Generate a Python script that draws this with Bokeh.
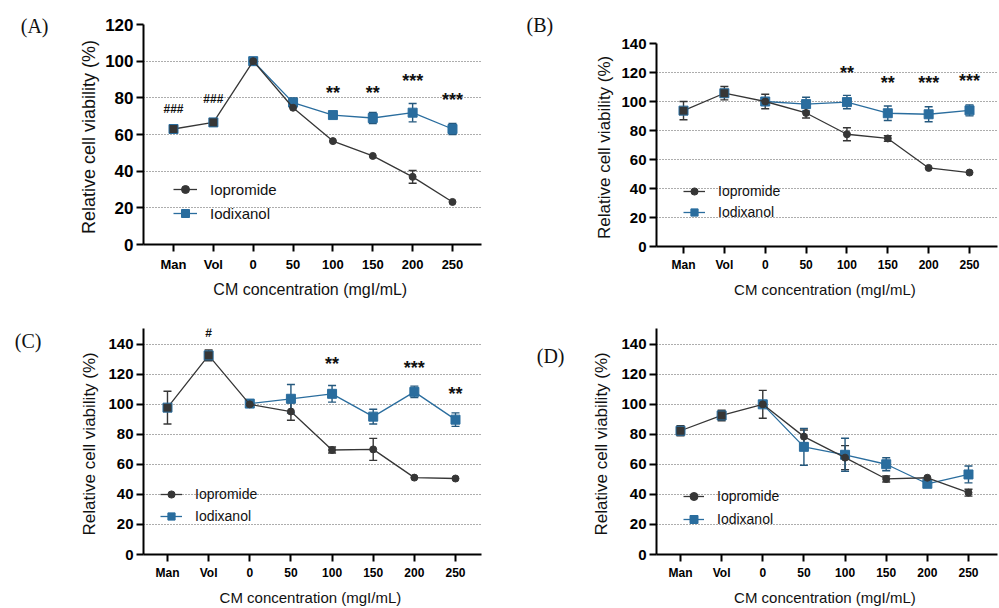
from bokeh.plotting import figure
from bokeh.models import (Range1d, FixedTicker, Whisker, TeeHead, ColumnDataSource,
                          Legend, LegendItem, LinearAxis, Title)
from bokeh.layouts import column, row
from bokeh.embed import file_html
from bokeh.resources import INLINE
from bokeh.core.properties import value

categories = ["Man", "Vol", "0", "50", "100", "150", "200", "250"]
iod_categories = ["0", "50", "100", "150", "200", "250"]

# ---------------- Panel A ----------------
a_iop = [63.0, 66.6, 100.0, 74.6, 56.4, 48.3, 36.9, 23.2]
a_iop_err = [0, 0, 1.8, 0, 0, 0, 3.5, 0]
a_iod = [100.0, 77.4, 70.6, 69.0, 71.9, 63.0]
a_iod_err = [0, 2.5, 0, 3.0, 5.0, 3.0]
a_sig_cat = ["Man", "Vol", "100", "150", "200", "250"]
a_sig_y = [74.0, 79.2, 82.8, 82.8, 89.0, 78.6]
a_sig_txt = ["###", "###", "**", "**", "***", "***"]
a_yticks = [0, 20, 40, 60, 80, 100, 120]
a_grid = [20, 40, 60, 80, 100]

# ---------------- Panel B ----------------
b_iop = [93.7, 105.7, 100.0, 92.1, 77.4, 74.5, 54.2, 51.0]
b_iop_err = [6.3, 4.6, 5.0, 3.5, 4.5, 2.0, 0, 0]
b_iod = [100.0, 98.2, 99.6, 91.9, 91.2, 93.9]
b_iod_err = [0, 4.7, 4.6, 5.0, 5.2, 3.8]
b_sig_cat = ["100", "150", "200", "250"]
b_sig_y = [119.5, 112.5, 113.0, 114.0]
b_sig_txt = ["**", "**", "***", "***"]
b_yticks = [0, 20, 40, 60, 80, 100, 120, 140]
b_grid = [20, 40, 60, 80, 100, 120]

# ---------------- Panel C ----------------
c_iop = [97.8, 132.6, 100.0, 95.2, 69.6, 70.0, 51.2, 50.6]
c_iop_err = [10.9, 3.6, 2.0, 5.8, 2.0, 7.3, 0, 0]
c_iod = [100.5, 103.7, 107.0, 91.8, 108.3, 89.8]
c_iod_err = [0, 9.5, 5.5, 4.9, 3.8, 4.5]
c_sig_cat = ["Vol", "100", "200", "250"]
c_sig_y = [147.5, 126.7, 124.0, 107.2]
c_sig_txt = ["#", "**", "***", "**"]
c_yticks = [0, 20, 40, 60, 80, 100, 120, 140]
c_grid = [20, 40, 60, 80, 100, 120, 140]

# ---------------- Panel D ----------------
d_iop = [82.4, 92.6, 100.0, 78.5, 64.5, 50.3, 51.1, 41.2]
d_iop_err = [3.3, 3.5, 9.3, 4.4, 8.0, 2.0, 0, 2.3]
d_iod = [100.0, 71.7, 66.4, 60.1, 47.1, 53.3]
d_iod_err = [0, 12.3, 11.0, 4.3, 0, 5.6]
d_sig_cat = []
d_sig_y = []
d_sig_txt = []
d_yticks = [0, 20, 40, 60, 80, 100, 120, 140]
d_grid = [20, 40, 60, 80, 100, 120, 140]

DARK = "#363636"
BLUE = "#2a6d9e"
BLUE_ERR = "#24587e"
FONT = "Liberation Sans"
SERIF = "Liberation Serif"


def make_panel(tag, iop, iop_err, iod, iod_err, sig_cat, sig_y, sig_txt,
               yticks, grid, ymax, xr, w, h, bl, br, bt, bb,
               ytick_size, xtick_size, ylab_size, xlab_size, ylab_standoff, xlab_standoff,
               xtick_standoff, leg_loc, leg_glyph_w, leg_h, leg_spacing, leg_text_size,
               tag_mode, tag_pos, tag_standoff):
    idx = {c: i for i, c in enumerate(categories)}
    p = figure(width=w, height=h, output_backend="svg", toolbar_location=None,
               x_range=Range1d(*xr), y_range=Range1d(0, ymax),
               min_border_left=bl, min_border_right=br, min_border_top=bt,
               min_border_bottom=bb)
    p.outline_line_color = None
    p.xgrid.visible = False
    p.ygrid.ticker = FixedTicker(ticks=grid)
    p.ygrid.grid_line_color = "#5a5a5a"
    p.ygrid.grid_line_dash = "1 2"
    p.ygrid.grid_line_width = 1

    for ax in (p.xaxis[0], p.yaxis[0]):
        ax.axis_line_width = 2
        ax.axis_line_color = "black"
        ax.major_tick_line_width = 2
        ax.major_tick_line_color = "black"
        ax.major_tick_in = 0
        ax.major_tick_out = 7
        ax.minor_tick_line_color = None
        ax.major_label_text_font = FONT
        ax.major_label_text_font_style = "bold"
        ax.major_label_text_color = "black"
        ax.axis_label_text_font = FONT
        ax.axis_label_text_font_style = "normal"
        ax.axis_label_text_color = "#111111"

    p.yaxis[0].ticker = FixedTicker(ticks=yticks)
    p.yaxis[0].major_label_text_font_size = ytick_size
    p.yaxis[0].major_label_standoff = 3
    p.yaxis[0].axis_label = "Relative cell viability  (%)"
    p.yaxis[0].axis_label_text_font_size = ylab_size
    p.yaxis[0].axis_label_standoff = ylab_standoff

    p.xaxis[0].ticker = FixedTicker(ticks=list(range(len(categories))))
    p.xaxis[0].major_label_overrides = {i: c for i, c in enumerate(categories)}
    p.xaxis[0].major_label_text_font_size = xtick_size
    p.xaxis[0].major_label_standoff = xtick_standoff
    p.xaxis[0].axis_label = "CM concentration  (mgI/mL)"
    p.xaxis[0].axis_label_text_font_size = xlab_size
    p.xaxis[0].axis_label_standoff = xlab_standoff

    # panel tag "(A)" etc.
    if tag_mode == "axis":
        frame_h = h - bt - bb
        p.extra_y_ranges = {"tag": Range1d(0, frame_h)}
        tag_axis = LinearAxis(y_range_name="tag", ticker=FixedTicker(ticks=[tag_pos]),
                              major_label_overrides={tag_pos: tag},
                              axis_line_color=None, major_tick_line_color=None,
                              minor_tick_line_color=None, major_tick_out=0,
                              major_tick_in=0,
                              major_label_standoff=tag_standoff,
                              major_label_text_font=SERIF,
                              major_label_text_font_size="20px",
                              major_label_text_font_style="normal",
                              major_label_text_color="#111111")
        p.add_layout(tag_axis, "left")
    else:
        p.title = Title(text=tag, align="left", offset=tag_pos, standoff=tag_standoff,
                        text_font=SERIF, text_font_size="20px",
                        text_font_style="normal", text_color="#111111")

    xs_iop = [idx[c] for c in categories]
    xs_iod = [idx[c] for c in iod_categories]

    def whisk(xs, ys, es, color):
        data = dict(x=[], upper=[], lower=[])
        for x, y, e in zip(xs, ys, es):
            if e > 0:
                data["x"].append(x)
                data["upper"].append(y + e)
                data["lower"].append(y - e)
        src = ColumnDataSource(data)
        wk = Whisker(source=src, base="x", upper="upper", lower="lower",
                     line_color=color, line_width=1.4,
                     upper_head=TeeHead(size=8, line_color=color, line_width=1.4),
                     lower_head=TeeHead(size=8, line_color=color, line_width=1.4))
        p.add_layout(wk)

    whisk(xs_iop, iop, iop_err, DARK)
    whisk(xs_iod, iod, iod_err, BLUE_ERR)

    bline = p.line(xs_iod, iod, line_color=BLUE, line_width=1.3)
    bsq = p.scatter(xs_iod, iod, marker="square", size=9, fill_color=BLUE,
                    line_color=BLUE)
    dline = p.line(xs_iop, iop, line_color=DARK, line_width=1.3)
    p.scatter(xs_iop[:2], iop[:2], marker="square", size=9, fill_color=DARK,
              line_color=BLUE, line_width=1)
    dcirc = p.scatter(xs_iop[2:], iop[2:], marker="circle", size=7,
                      fill_color=DARK, line_color=DARK)

    star_x = [idx[c] for c, t in zip(sig_cat, sig_txt) if "*" in t]
    star_y = [y for y, t in zip(sig_y, sig_txt) if "*" in t]
    star_t = [t for t in sig_txt if "*" in t]
    hash_x = [idx[c] for c, t in zip(sig_cat, sig_txt) if "#" in t]
    hash_y = [y for y, t in zip(sig_y, sig_txt) if "#" in t]
    hash_t = [t for t in sig_txt if "#" in t]
    if star_t:
        p.text(star_x, star_y, text=star_t, text_font=value(FONT),
               text_font_style="bold", text_font_size="18px", text_align="center",
               text_baseline="middle", text_color="#111111")
    if hash_t:
        p.text(hash_x, hash_y, text=hash_t, text_font=value(FONT),
               text_font_style="bold", text_font_size="12px", text_align="center",
               text_baseline="middle", text_color="#111111")

    legend = Legend(items=[LegendItem(label="Iopromide", renderers=[dline, dcirc]),
                           LegendItem(label="Iodixanol", renderers=[bline, bsq])],
                    location=leg_loc)
    legend.background_fill_alpha = 0
    legend.border_line_alpha = 0
    legend.padding = 0
    legend.margin = 0
    legend.spacing = leg_spacing
    legend.glyph_width = leg_glyph_w
    legend.glyph_height = leg_h
    legend.label_height = leg_h
    legend.label_standoff = 13
    legend.label_text_font = FONT
    legend.label_text_font_size = leg_text_size
    legend.label_text_color = "#111111"
    p.add_layout(legend)
    return p


pA = make_panel("(A)", a_iop, a_iop_err, a_iod, a_iod_err, a_sig_cat, a_sig_y, a_sig_txt,
                a_yticks, a_grid, 120, (-0.753, 7.728), 500, 300, 143, 19, 24, 56,
                "17px", "13px", "18px", "16px", 3, 6, 5,
                (30, 21), 24, 20, 4, "15px", "axis", 219, 28)
pC = make_panel("(C)", c_iop, c_iop_err, c_iod, c_iod_err, c_sig_cat, c_sig_y, c_sig_txt,
                c_yticks, c_grid, 150.5, (-0.583, 7.632), 500, 308, 143, 19, 28, 51,
                "15px", "12px", "17px", "15px", 6, 6, 4,
                (17, 29), 22, 18, 4, "14px", "axis", 216, 36)
pB = make_panel("(B)", b_iop, b_iop_err, b_iod, b_iod_err, b_sig_cat, b_sig_y, b_sig_txt,
                b_yticks, b_grid, 140, (-0.661, 7.685), 499, 300, 156, 2, 43, 51,
                "15px", "12px", "17px", "15px", 4, 6, 4,
                (27, 25), 22, 18, 3, "14px", "title", -130, 16)
pD = make_panel("(D)", d_iop, d_iop_err, d_iod, d_iod_err, d_sig_cat, d_sig_y, d_sig_txt,
                d_yticks, d_grid, 150.5, (-0.583, 7.705), 499, 308, 156, 2, 28, 51,
                "15px", "12px", "17px", "15px", 7, 6, 4,
                (27, 25), 21, 20, 3, "14px", "axis", 201, 25)

layout = row(column(pA, pC, spacing=0), column(pB, pD, spacing=0), spacing=0)
open("out.html", "w").write(file_html(layout, INLINE))
